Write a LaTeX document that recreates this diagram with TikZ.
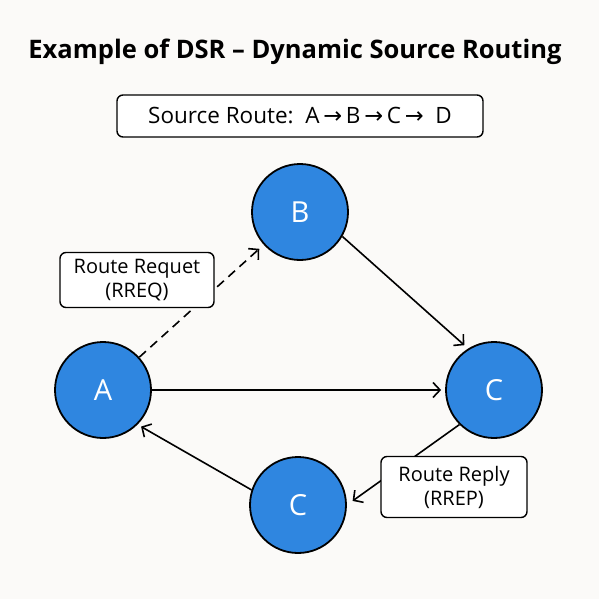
\documentclass[tikz,border=0pt]{standalone}
\usepackage{fontspec}
\setmainfont{Open Sans}
\newfontfamily\arrowfont{DejaVu Sans}
\usetikzlibrary{arrows.meta,positioning}
\definecolor{dsrblue}{RGB}{47,134,224}
\definecolor{paper}{RGB}{251,250,248}
\newcommand{\ra}{{\arrowfont\char"2192}}

\begin{document}
\begin{tikzpicture}[x=1pt,y=-1pt,dsrnode/.style={circle,draw,line width=1.8pt,fill=dsrblue,text=white,minimum size=96pt,inner sep=0pt,font=\fontsize{29}{30}\selectfont},lbl/.style={draw,rounded corners=6pt,fill=white,align=center,line width=1.4pt,font=\fontsize{20}{24}\selectfont},arr/.style={-{Straight Barb[length=7pt,width=15pt]},line width=1.6pt}]
\fill[paper] (0,0) rectangle (599,599);
\useasboundingbox (0,0) rectangle (599,599);
\node[font=\bfseries\fontsize{25.5}{30}\selectfont] (title) at (295,52) {Example of DSR -- Dynamic Source Routing};
\node[lbl,minimum width=366pt,minimum height=42pt,font=\fontsize{22.5}{26}\selectfont] (route) at (300,116) {Source Route:\ \ A\,\ra\,B\,\ra\,C\,\ra\ \ D};
\node[dsrnode] (A) at (103,390) {A};
\node[dsrnode] (B) at (300,212) {B};
\node[dsrnode] (C) at (494,390) {C};
\node[dsrnode] (C2) at (298,505) {C};
\draw[arr,dash pattern=on 9pt off 6pt,shorten >=6pt] (A) -- (B);
\draw[arr,shorten >=5pt] (B.-30) -- (C.122);
\draw[arr,shorten >=4pt] (A) -- (C);
\draw[arr,shorten >=7pt] (C.225) -- (C2.east);
\draw[arr,shorten >=4pt] (C2.162) -- (A.-45);
\node[lbl,minimum width=154pt,minimum height=55pt] (rreq) at (137,280) {Route Requet\\(RREQ)};
\node[lbl,minimum width=146pt,minimum height=61pt] (rrep) at (454,487) {Route Reply\\(RREP)};
\end{tikzpicture}
\end{document}
